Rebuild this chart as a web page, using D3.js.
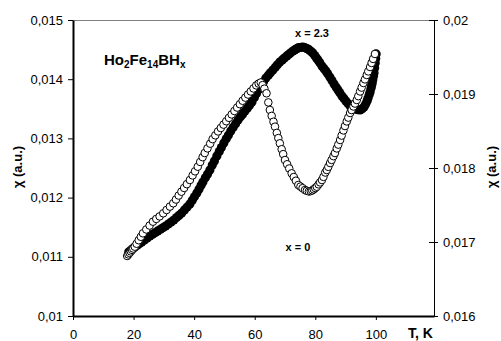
<!DOCTYPE html>
<html><head><meta charset="utf-8">
<script src="https://cdn.jsdelivr.net/npm/d3@7"></script>
<style>
body{margin:0;background:#fff;}
svg{display:block;font-family:"Liberation Sans",Arial,sans-serif;}
</style></head><body><svg id="c" width="501" height="341"></svg>
<script>
// ---- data ----
const xTicks = [0, 20, 40, 60, 80, 100];
const yLeftTicks = [0.01, 0.011, 0.012, 0.013, 0.014, 0.015];
const yRightTicks = [0.016, 0.017, 0.018, 0.019, 0.02];

// x = 0 (open circles, left axis)
const openT = [17.9,18.3,18.7,19.1,19.5,19.9,20.4,21.0,21.7,22.4,
 23.1,24.2,25.3,26.4,27.5,28.6,29.8,30.9,32.0,33.1,34.0,34.9,35.8,36.7,37.6,38.6,39.5,40.3,41.2,42.0,42.8,43.5,
 44.4,45.3,46.1,47.0,47.9,48.8,49.7,50.6,51.5,52.4,53.3,54.2,55.1,56.0,56.9,57.8,58.7,59.6,60.5,61.3,62.0,
 62.6,63.2,63.9,64.5,65.0,65.6,66.2,66.7,67.3,67.8,68.3,68.9,69.4,70.0,70.7,71.4,72.2,72.9,73.6,74.4,75.1,75.8,76.6,77.2,77.9,
 78.5,79.0,79.5,80.0,80.5,81.1,81.6,82.2,82.7,83.3,83.8,84.3,84.9,85.4,86.0,86.5,87.1,87.6,88.2,88.7,89.3,89.8,90.4,90.9,91.5,
 92.0,92.6,93.1,93.7,94.2,94.8,95.3,95.9,96.4,97.0,97.5,98.1,98.6,99.1,99.7];
const openChi = [0.011014,0.011040,0.011066,0.011091,0.011117,0.011140,0.011171,0.011221,0.011280,0.011338,
 0.011397,0.011462,0.011528,0.011593,0.011640,0.011683,0.011735,0.011791,0.011848,0.011904,0.011967,0.012035,0.012100,0.012163,0.012227,0.012297,0.012375,0.012444,0.012522,0.012602,0.012683,0.012753,
 0.012832,0.012911,0.012988,0.013052,0.013118,0.013176,0.013233,0.013290,0.013348,0.013405,0.013463,0.013521,0.013578,0.013636,0.013689,0.013741,0.013793,0.013844,0.013896,0.013926,0.013944,
 0.013900,0.013840,0.013762,0.013608,0.013480,0.013380,0.013281,0.013198,0.013093,0.013005,0.012917,0.012817,0.012734,0.012635,0.012563,0.012492,0.012410,0.012347,0.012285,0.012213,0.012186,0.012159,0.012128,0.012115,0.012103,
 0.012110,0.012122,0.012140,0.012162,0.012184,0.012224,0.012257,0.012297,0.012350,0.012424,0.012466,0.012520,0.012584,0.012637,0.012700,0.012753,0.012831,0.012895,0.012973,0.013047,0.013135,0.013209,0.013287,0.013351,0.013429,
 0.013479,0.013539,0.013589,0.013649,0.013714,0.013793,0.013858,0.013936,0.013997,0.014071,0.014132,0.014206,0.014275,0.014343,0.014426];

// x = 2.3 (filled circles, right axis)
const filledT = [18.4,19.1,19.8,20.4,21.2,22.0,22.7,23.6,24.5,25.4,26.3,27.2,28.0,28.9,29.8,30.6,31.5,32.4,33.3,34.2,35.0,
 35.9,36.8,37.7,38.6,39.4,40.1,40.9,41.6,42.3,42.9,43.7,44.4,45.2,46.0,46.7,47.5,48.3,49.0,49.8,50.6,51.3,
 52.1,52.9,53.7,54.5,55.3,56.0,56.8,57.6,58.3,59.1,59.9,60.6,61.4,62.2,62.9,63.7,64.5,65.2,66.0,66.8,67.5,
 68.3,69.1,69.8,70.6,71.3,71.9,72.6,73.2,73.8,74.3,74.8,75.4,75.9,76.5,77.0,77.6,78.1,78.7,79.2,79.8,80.4,
 80.9,81.5,82.2,82.9,83.5,84.1,84.8,85.5,86.2,86.9,87.5,88.1,88.8,89.4,90.1,90.8,91.5,92.3,93.1,94.0,94.8,95.5,
 96.1,96.6,97.1,97.4,97.8,98.1,98.4,98.6,98.8,99.0,99.2,99.4,99.6,99.8,99.95,100.1];
const filledChi = [0.016865,0.016888,0.016912,0.016932,0.016955,0.016979,0.017000,0.017027,0.017054,0.017081,0.017105,0.017128,0.017149,0.017172,0.017195,0.017216,0.017243,0.017270,0.017297,0.017330,0.017359,
 0.017392,0.017433,0.017473,0.017514,0.017565,0.017610,0.017662,0.017714,0.017766,0.017811,0.017867,0.017917,0.017973,0.018039,0.018096,0.018162,0.018223,0.018277,0.018338,0.018394,0.018444,
 0.018500,0.018550,0.018599,0.018649,0.018691,0.018728,0.018770,0.018812,0.018849,0.018892,0.018953,0.019007,0.019068,0.019119,0.019164,0.019216,0.019254,0.019287,0.019324,0.019362,0.019394,
 0.019432,0.019461,0.019486,0.019514,0.019537,0.019557,0.019581,0.019595,0.019610,0.019622,0.019627,0.019632,0.019635,0.019628,0.019618,0.019608,0.019592,0.019572,0.019554,0.019520,0.019487,
 0.019459,0.019422,0.019378,0.019342,0.019311,0.019274,0.019230,0.019183,0.019135,0.019091,0.019054,0.019017,0.018973,0.018942,0.018905,0.018871,0.018838,0.018815,0.018797,0.018788,0.018784,0.018800,
 0.018824,0.018862,0.018905,0.018941,0.018990,0.019027,0.019079,0.019115,0.019149,0.019194,0.019239,0.019284,0.019351,0.019419,0.019480,0.019541];

// ---- drawing ----
const svg = d3.select("#c");
const x = d3.scaleLinear().domain([0, 119.2]).range([73, 434]);
const yL = d3.scaleLinear().domain([0.01, 0.015]).range([316, 20]);
const yR = d3.scaleLinear().domain([0.016, 0.02]).range([316, 20]);
const fmt = d => String(+d.toFixed(3)).replace('.', ',');

// top border
svg.append("line").attr("x1", 73).attr("x2", 434).attr("y1", 20.5).attr("y2", 20.5)
  .attr("stroke", "#808080").attr("stroke-width", 1);

// left axis
const gL = svg.append("g").attr("transform", "translate(73,0)")
  .call(d3.axisLeft(yL).tickValues(yLeftTicks).tickSize(5).tickSizeOuter(0).tickPadding(5).tickFormat(fmt));
gL.select(".domain").attr("stroke-width", 2);

// right axis
const gR = svg.append("g").attr("transform", "translate(434,0)")
  .call(d3.axisRight(yR).tickValues(yRightTicks).tickSize(4).tickSizeOuter(0).tickPadding(5).tickFormat(fmt));
gR.selectAll(".tick line").attr("x1", -5);

// bottom axis
const gB = svg.append("g").attr("transform", "translate(0,316)")
  .call(d3.axisBottom(x).tickValues(xTicks).tickSize(4).tickSizeOuter(0).tickPadding(10).tickFormat(d3.format("d")));
gB.select(".domain").attr("stroke-width", 2);

svg.selectAll(".tick text").attr("font-size", 13).attr("font-family", '"Liberation Sans",Arial,sans-serif').attr("fill", "#000");
svg.selectAll(".tick line").attr("stroke", "#000");
svg.selectAll(".domain").attr("stroke", "#000");

// filled series
const filled = filledT.map((t, i) => [t, filledChi[i]]);
svg.append("g").selectAll("circle").data(filled).join("circle")
  .attr("cx", d => x(d[0])).attr("cy", d => yR(d[1])).attr("r", 4.6)
  .attr("fill", "#000");

// open series
const open = openT.map((t, i) => [t, openChi[i]]);
svg.append("g").selectAll("circle").data(open).join("circle")
  .attr("cx", d => x(d[0])).attr("cy", d => yL(d[1])).attr("r", 3.8)
  .attr("fill", "#fff").attr("stroke", "#000").attr("stroke-width", 1);

// texts
const title = svg.append("text").attr("x", 104).attr("y", 65)
  .attr("font-weight", "bold").attr("font-size", 15);
title.append("tspan").text("Ho");
title.append("tspan").attr("font-size", 10).attr("dy", 3).text("2");
title.append("tspan").attr("dy", -3).text("Fe");
title.append("tspan").attr("font-size", 10).attr("dy", 3).text("14");
title.append("tspan").attr("dy", -3).text("BH");
title.append("tspan").attr("font-size", 10).attr("dy", 3).text("x");

svg.append("text").attr("x", 312).attr("y", 37).attr("text-anchor", "middle")
  .attr("font-weight", "bold").attr("font-size", 11).text("x = 2.3");
svg.append("text").attr("x", 298).attr("y", 251).attr("text-anchor", "middle")
  .attr("font-weight", "bold").attr("font-size", 11).text("x = 0");

svg.append("text").attr("transform", "translate(22,167) rotate(-90)").attr("text-anchor", "middle")
  .attr("font-weight", "bold").attr("font-size", 13).text("χ (a.u.)");
svg.append("text").attr("transform", "translate(496,167) rotate(-90)").attr("text-anchor", "middle")
  .attr("font-weight", "bold").attr("font-size", 13).text("χ (a.u.)");

svg.append("text").attr("x", 408).attr("y", 338)
  .attr("font-weight", "bold").attr("font-size", 14).text("T, K");
</script></body></html>
